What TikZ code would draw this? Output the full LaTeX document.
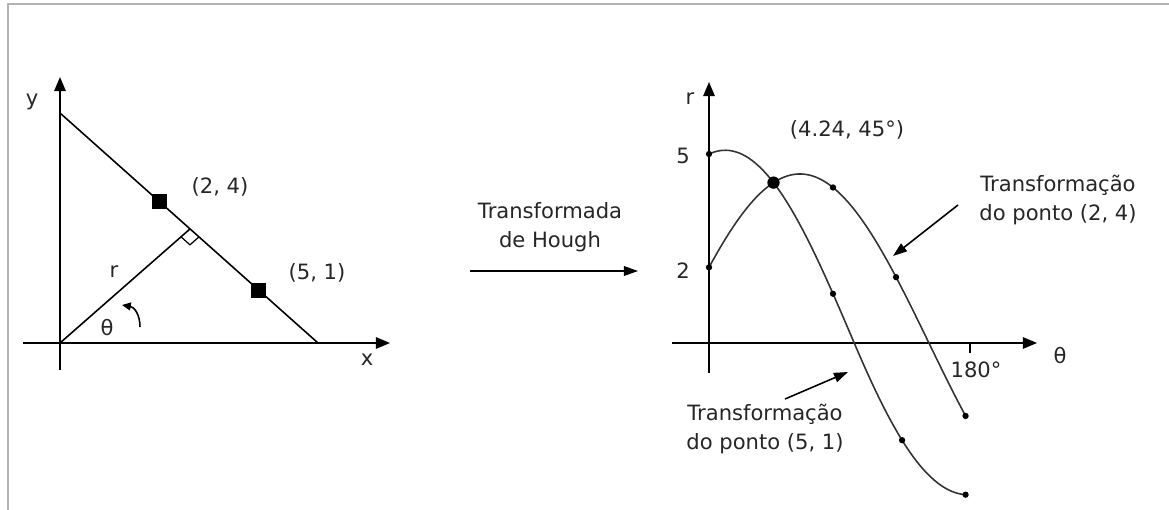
\documentclass[tikz,border=0pt]{standalone}
\usepackage{fontspec}
\setmainfont{DejaVu Sans}
\usetikzlibrary{calc}
\usetikzlibrary{positioning}
\usetikzlibrary{arrows.meta}
\tikzset{
  axis/.style={line width=.9pt, -{Triangle[length=8pt,width=6.5pt]}},
  tip/.style={line width=.9pt, -{Triangle[length=8pt,width=5.5pt]}},
  curve/.style={line width=.9pt, black!80},
  lbl/.style={inner sep=0pt, font=\fontsize{12}{16.5}\selectfont, text=black!85},
  pt/.style={circle, fill=black, inner sep=0pt, minimum size=3.6pt},
  sq/.style={rectangle, fill=black, inner sep=0pt, minimum size=.3cm},
  declare function={
    hx(\t)=709+1.4333*\t;
    ra(\t)=343-37.8*(2*cos(\t)+4*sin(\t));
    rb(\t)=343-37.8*(5*cos(\t)+sin(\t))*(1-0.0025*max(\t-101.3,0));
  }
}

\begin{document}
\begin{tikzpicture}[x=.02cm, y=-.02cm]
          \useasboundingbox (0,0) rectangle (1169,510);
          \draw[black!30, line width=1.1pt] (8,510) -- (8,4) -- (1169,4);

          \coordinate (o) at (60,343);
          \coordinate (yb) at (60,370);
          \coordinate (yt) at (60,77);
          \coordinate (xl) at (23,343);
          \coordinate (xr) at (390,343);
          \coordinate (a) at (60,113);
          \coordinate (b) at (318,343);
          \coordinate (f) at ($(a)!.504!(b)$);
          \coordinate (f1) at ($(f)!.24cm!(b)$);
          \coordinate (f2) at ($(f)!.24cm!(o)$);

          \draw[axis] (yb) -- (yt);
          \draw[axis] (xl) -- (xr);
          \draw[line width=.9pt] (a) -- (b);
          \draw[line width=.9pt] (o) -- (f);
          \draw[line width=.7pt] (f1) -- ($(f1)+(f2)-(f)$) -- (f2);
          \draw[line width=.9pt, -{Triangle[length=5pt,width=4.5pt]}]
          (140,327) .. controls (140,314) and (134,307) .. (122,305);

          \node[sq] (p24) at ($(a)!.384!(b)$) {};
          \node[sq] (p51) at ($(a)!.771!(b)$) {};

          \node[lbl] (ly) at (32,102) {y};
          \node[lbl] (lx) at (367,360) {x};
          \node[lbl] (lr) at (114,272) {r};
          \node[lbl] (lth) at (107,328) {θ};
          \node[lbl] (l24) at (220,187) {(2, 4)};
          \node[lbl] (l51) at (317,273) {(5, 1)};

          \node[lbl, align=center] (hough) at (550,227) {Transformada\\de Hough};
          \coordinate (h1) at (470,271);
          \coordinate (h2) at (638,271);
          \draw[tip] (h1) -- (h2);

          \coordinate (rb) at (709,373);
          \coordinate (rt) at (709,82);
          \coordinate (tl) at (672,343);
          \coordinate (tr) at (1037,343);
          \draw[axis] (rb) -- (rt);
          \draw[axis] (tl) -- (tr);
          \draw[line width=.9pt] (970,343) -- (970,353);

          \draw[curve] plot[domain=0:179, samples=90, smooth] ({hx(\x)},{ra(\x)});
          \draw[curve] plot[domain=0:179, samples=90, smooth] ({hx(\x)},{rb(\x)});

          \foreach \t [count=\i] in {0,86.5,130.5,179}{
            \node[pt] (da\i) at ({hx(\t)},{ra(\t)}) {};
          }
          \foreach \t [count=\i] in {0,86.5,134.7,179}{
            \node[pt] (db\i) at ({hx(\t)},{rb(\t)}) {};
          }
          \node[pt, minimum size=7pt] (cross) at ({hx(45)},{ra(45)}) {};

          \node[lbl] (lr2) at (690,99) {r};
          \node[lbl] (lth2) at (1060,356) {θ};
          \node[lbl] (l180) at (976,370) {180°};
          \node[lbl] (l5) at (683,156) {5};
          \node[lbl] (l2) at (683,271) {2};
          \node[lbl] (lcross) at (847,130) {(4.24, 45°)};

          \node[lbl, align=center] (t24) at (1058,200) {Transformação\\do ponto (2, 4)};
          \coordinate (s24) at (958,205);
          \coordinate (e24) at (893,256);
          \draw[tip] (s24) -- (e24);

          \node[lbl, align=center] (t51) at (765,429) {Transformação\\do ponto (5, 1)};
          \coordinate (s51) at (785,399);
          \coordinate (e51) at (848,372);
          \draw[tip] (s51) -- (e51);

        \end{tikzpicture}
\end{document}
